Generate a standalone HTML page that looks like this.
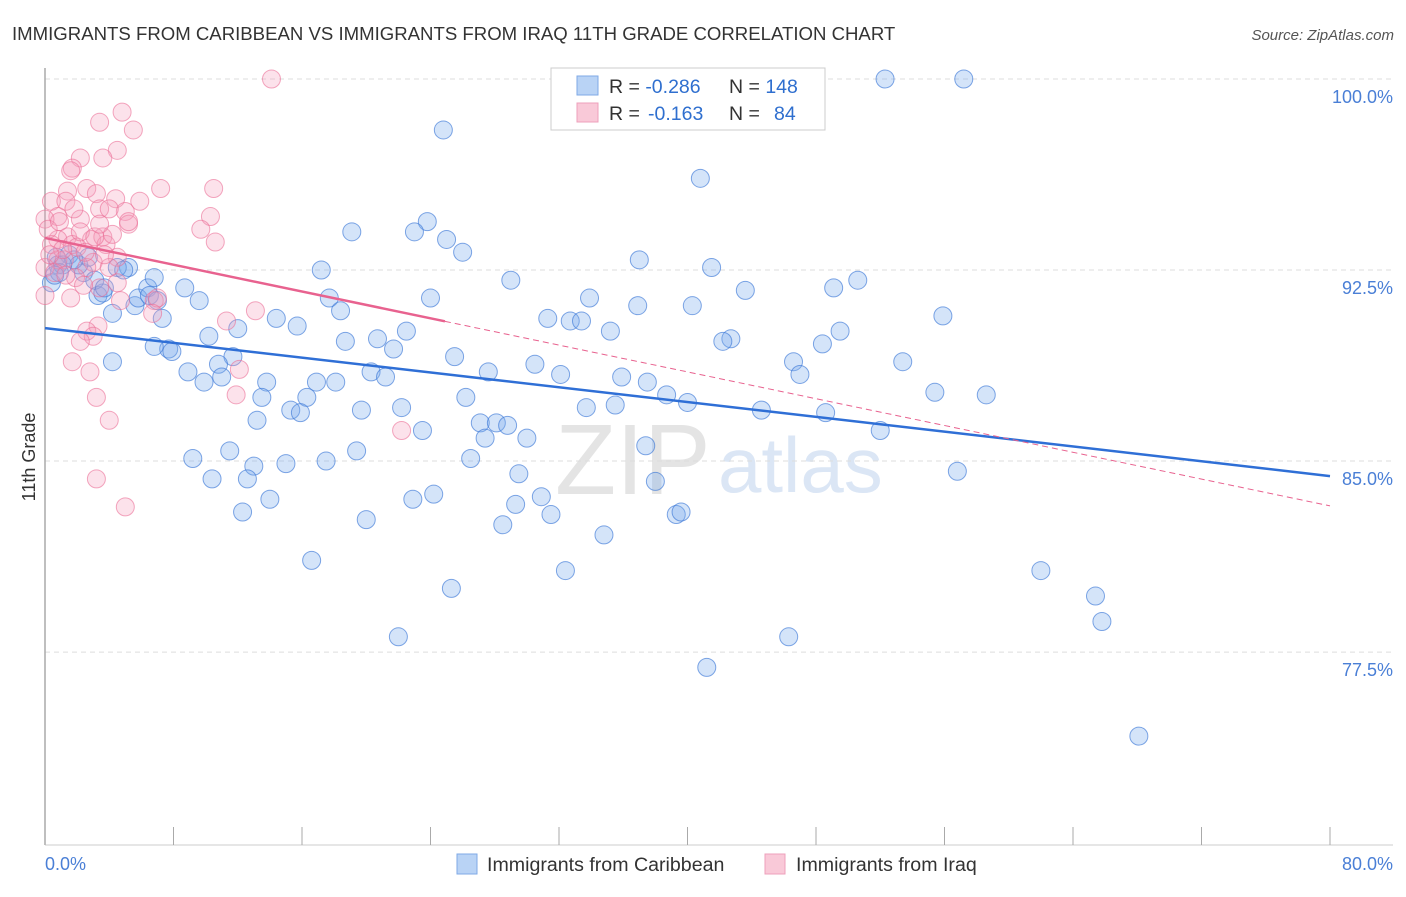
<!DOCTYPE html>
<html><head><meta charset="utf-8"><style>
body{margin:0;background:#fff;font-family:"Liberation Sans",sans-serif;}
svg text{font-family:"Liberation Sans",sans-serif;}
</style></head><body>
<svg id="chart" width="1406" height="892" viewBox="0 0 1406 892">
<text x="12" y="40" font-size="18.6" fill="#333">IMMIGRANTS FROM CARIBBEAN VS IMMIGRANTS FROM IRAQ 11TH GRADE CORRELATION CHART</text>
<text x="1394" y="40" font-size="15" fill="#555" font-style="italic" text-anchor="end">Source: ZipAtlas.com</text>
<text x="555" y="494" font-size="100" fill="#e4e4e4" font-family="Liberation Serif">ZIP</text>
<text x="718" y="492" font-size="78" fill="#dbe6f5">atlas</text>
<g id="grid"></g>
<g id="axes"></g>
<g id="pts"></g>
<g id="trends"></g>
<text transform="translate(35,457) rotate(-90)" font-size="18" fill="#333" text-anchor="middle">11th Grade</text>
<text x="45" y="870" font-size="18" fill="#4a7fd6">0.0%</text>
<text x="1393" y="870" font-size="18" fill="#4a7fd6" text-anchor="end">80.0%</text>
<g>
<rect x="551" y="68" width="274" height="62" fill="#fff" stroke="#ccc"/>
<rect x="577" y="76" width="21" height="19" fill="#b9d3f5" stroke="#7fa9e6"/>
<rect x="577" y="103" width="21" height="19" fill="#f9c9d8" stroke="#eea0bb"/>
<text x="609" y="93" font-size="19.5" fill="#333">R = <tspan fill="#2f6fcf">-0.286</tspan><tspan x="729">N = </tspan><tspan fill="#2f6fcf">148</tspan></text>
<text x="609" y="120" font-size="19.5" fill="#333">R = <tspan x="648" fill="#2f6fcf">-0.163</tspan><tspan x="729">N = </tspan><tspan x="774" fill="#2f6fcf">84</tspan></text>
</g>
<g>
<rect x="457" y="854" width="20" height="20" fill="#b9d3f5" stroke="#7fa9e6"/>
<text x="487" y="871" font-size="19.6" fill="#333">Immigrants from Caribbean</text>
<rect x="765" y="854" width="20" height="20" fill="#f9c9d8" stroke="#eea0bb"/>
<text x="796" y="871" font-size="19.6" fill="#333">Immigrants from Iraq</text>
</g>
</svg>
<script>
const yTicks=[100,92.5,85,77.5];
const yTickLabels=["100.0%","92.5%","85.0%","77.5%"];
const xTicks=[0,8,16,24,32,40,48,56,64,72,80];
const blueX=[52.3,57.2,24.8,40.8,23.8,23.0,19.1,25.0,26.0,37.0,17.2,29.0,41.5,50.6,49.1,43.6,33.9,36.9,40.3,24.0,17.7,18.4,31.3,32.7,33.4,35.2,55.9,49.5,48.4,42.7,42.2,53.4,46.6,47.0,20.7,21.7,22.5,15.7,14.4,18.7,25.5,30.5,32.1,27.6,35.9,37.5,38.7,40.0,20.3,21.2,55.4,58.6,44.6,48.6,52.0,33.7,35.5,26.2,22.2,19.7,16.3,15.3,15.9,16.9,18.1,13.8,13.5,13.2,12.0,10.2,11.7,10.8,11.0,8.9,9.9,7.7,7.9,6.8,4.2,8.7,9.6,7.3,5.6,5.8,6.4,6.8,5.2,4.5,3.3,4.2,3.6,2.4,1.5,0.7,0.8,0.4,2.1,2.7,27.1,27.4,28.1,28.8,30.0,23.5,29.5,26.5,37.4,38.0,9.2,11.5,10.4,13.0,12.6,15.0,17.5,19.4,12.3,14.0,22.9,24.2,29.3,30.9,31.5,28.5,34.8,39.3,39.6,56.8,20.0,16.6,32.4,25.3,62.0,65.4,65.8,22.0,46.3,41.2,68.1,1.8,1.1,3.1,3.7,6.5,7.0,4.9,0.9,0.6];
const blueY=[100,100,98.0,96.1,94.4,94.0,94.0,93.7,93.2,92.9,92.5,92.1,92.6,92.1,91.8,91.7,91.4,91.1,91.1,91.4,91.4,90.9,90.6,90.5,90.5,90.1,90.7,90.1,89.6,89.8,89.7,88.9,88.9,88.4,89.8,89.4,90.1,90.3,90.6,89.7,89.1,88.8,88.4,88.5,88.3,88.1,87.6,87.3,88.5,88.3,87.7,87.6,87.0,86.9,86.2,87.1,87.2,87.5,87.1,87.0,87.5,87.0,86.9,88.1,88.1,88.1,87.5,86.6,90.2,89.9,89.1,88.8,88.3,88.5,88.1,89.4,89.3,89.5,88.9,91.8,91.3,90.6,91.1,91.4,91.8,92.2,92.6,92.6,91.5,90.8,91.6,92.4,93.1,93.0,92.7,92.0,92.7,93.0,86.5,85.9,86.5,86.4,85.9,86.2,84.5,85.1,85.6,84.2,85.1,85.4,84.3,84.8,84.3,84.9,85.0,85.4,83.0,83.5,83.5,83.7,83.3,83.6,82.9,82.5,82.1,82.9,83.0,84.6,82.7,81.1,80.7,80.0,80.7,79.7,78.7,78.1,78.1,76.9,74.2,92.9,92.7,92.1,91.8,91.5,91.3,92.5,92.4,92.3];
const pinkX=[14.1,4.8,3.4,5.5,4.5,3.6,2.2,1.7,1.6,7.2,10.5,2.6,1.4,3.2,4.4,5.9,0.4,1.3,3.4,5.0,4.0,10.3,0.8,2.2,0.0,5.2,9.7,10.6,1.4,0.8,1.7,2.9,0.4,2.0,3.6,3.8,4.5,0.8,1.2,3.0,2.6,0.0,0.6,4.0,1.9,4.5,3.4,1.6,0.0,4.7,6.8,7.0,11.3,13.1,6.7,3.3,2.6,3.0,2.2,1.7,2.8,12.1,11.9,3.2,4.0,22.2,3.2,5.0,2.4,1.1,0.2,2.2,0.9,1.8,3.1,4.2,2.5,3.7,0.3,1.3,3.4,5.2];
const pinkY=[100.0,98.7,98.3,98.0,97.2,96.9,96.9,96.5,96.4,95.7,95.7,95.7,95.6,95.5,95.3,95.2,95.2,95.2,94.9,94.8,94.9,94.6,94.6,94.5,94.5,94.3,94.1,93.6,93.8,93.7,93.5,93.7,93.5,93.4,93.8,93.5,93.0,92.9,92.9,92.8,92.6,92.6,92.4,92.6,92.2,92.0,91.8,91.4,91.5,91.3,91.3,91.4,90.5,90.9,90.8,90.3,90.1,89.9,89.7,88.9,88.5,88.6,87.6,87.5,86.6,86.2,84.3,83.2,91.9,93.3,94.1,94.0,94.4,94.9,93.8,93.9,93.2,93.1,93.1,92.3,94.3,94.4];
const blueTrend=[90.22,84.41];
const pinkTrend=[93.76,83.24];
const pinkSolidEnd=24.9;

const NS="http://www.w3.org/2000/svg";
const X0=45,X1=1330,Y100=79,PXPER=25.47;
const sx=v=>X0+(v/80)*(X1-X0);
const sy=v=>Y100+(100-v)*PXPER;
function mk(tag,attrs,parent){const e=document.createElementNS(NS,tag);for(const k in attrs)e.setAttribute(k,attrs[k]);parent.appendChild(e);return e;}
const grid=document.getElementById('grid'),axes=document.getElementById('axes'),pts=document.getElementById('pts'),tr=document.getElementById('trends');
yTicks.forEach((t,i)=>{
  const l=mk('line',{x1:X0,x2:1393,y1:sy(t),y2:sy(t),stroke:'#ddd','stroke-dasharray':'5,4'},grid);
  
  
  const tx=mk('text',{x:1393,y:sy(t)+24,'font-size':18,fill:'#4a7fd6','text-anchor':'end'},grid);
  tx.textContent=yTickLabels[i];
  
  
});
const ya=mk('line',{x1:X0,x2:X0,y1:68,y2:845,stroke:'#aaa','stroke-width':1.5},axes);


const xa=mk('line',{x1:X0,x2:1393,y1:845,y2:845,stroke:'#ccc'},axes);


xTicks.forEach(t=>{
  const l=mk('line',{x1:sx(t),x2:sx(t),y1:827,y2:845,stroke:'#aaa'},axes);
  
  
});
blueX.forEach((v,i)=>{
  const c=mk('circle',{cx:sx(v),cy:sy(blueY[i]),r:9,fill:'rgba(120,170,235,0.32)',stroke:'rgba(60,120,215,0.65)','stroke-width':1},pts);
  
  
});
pinkX.forEach((v,i)=>{
  const c=mk('circle',{cx:sx(v),cy:sy(pinkY[i]),r:9,fill:'rgba(245,160,190,0.3)',stroke:'rgba(235,110,150,0.6)','stroke-width':1},pts);
  
  
});
const lerp=(a,x)=>a[0]+(a[1]-a[0])*x/80;
const bl=mk('line',{x1:sx(0),y1:sy(blueTrend[0]),x2:sx(80),y2:sy(blueTrend[1]),stroke:'#2f6fd6','stroke-width':2.5},tr);


const pl=mk('line',{x1:sx(0),y1:sy(pinkTrend[0]),x2:sx(pinkSolidEnd),y2:sy(lerp(pinkTrend,pinkSolidEnd)),stroke:'#e8628f','stroke-width':2.5},tr);


const pd=mk('line',{x1:sx(pinkSolidEnd),y1:sy(lerp(pinkTrend,pinkSolidEnd)),x2:sx(80),y2:sy(pinkTrend[1]),stroke:'#e8628f','stroke-width':1,'stroke-dasharray':'6,4'},tr);


</script>
</body></html>
